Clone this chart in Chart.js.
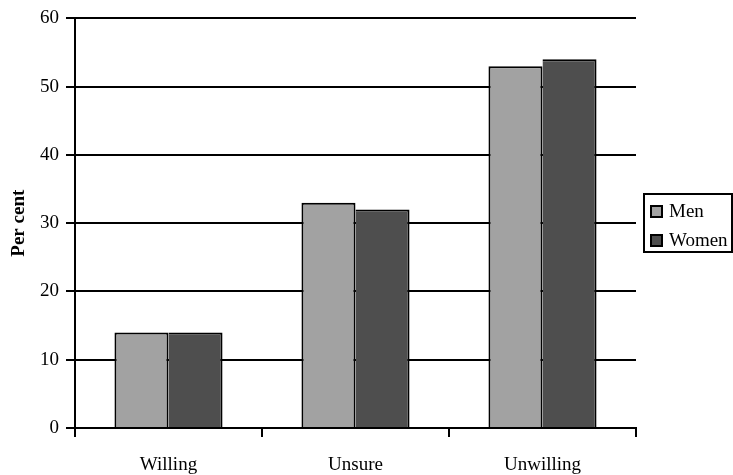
<!doctype html>
<html lang="en">
<head>
  <meta charset="utf-8">
  <title>Willingness by sex</title>
  <script src="https://cdn.jsdelivr.net/npm/chart.js"></script>
  <style>
    html, body { margin: 0; padding: 0; background: #fff; }
    #wrap { width: 733px; height: 475px; }
  </style>
</head>
<body>
<div id="wrap"><canvas id="myChart"></canvas></div>

<script>
  // answers per group, in per cent
  const categories = ['Willing', 'Unsure', 'Unwilling'];
  const men = [14, 33, 53];
  const women = [14, 32, 54];
  const yMin = 0, yMax = 60, yStep = 10;

  const FONT = 'Liberation Serif';
  Chart.defaults.color = '#000';
  Chart.defaults.font.family = FONT;
  Chart.defaults.font.size = 19;

  // boxed legend to the right of the plot, centred on the plot area
  var boxLegend = {
    id: 'boxLegend',
    afterDraw: function (chart) {
      var ctx = chart.ctx;
      var area = chart.chartArea;
      var sets = chart.data.datasets;
      var rowH = 29;
      var boxW = 88, boxH = 58;
      var x0 = 644;
      var y0 = Math.round((area.top + area.bottom) / 2 - boxH / 2);
      ctx.save();
      ctx.strokeStyle = '#000';
      ctx.lineWidth = 2;
      ctx.strokeRect(x0, y0, boxW, boxH);
      ctx.font = '19px ' + FONT;
      ctx.textBaseline = 'middle';
      sets.forEach(function (ds, i) {
        var cy = y0 + 18 + i * rowH;
        ctx.fillStyle = ds.backgroundColor;
        ctx.fillRect(x0 + 7, cy - 6, 11, 11);
        ctx.lineWidth = 2;
        ctx.strokeRect(x0 + 7, cy - 6, 11, 11);
        ctx.fillStyle = '#000';
        ctx.fillText(ds.label, x0 + 25, cy);
      });
      ctx.restore();
    }
  };

  var config = {
    type: 'bar',
    data: {
      labels: categories,
      datasets: [{
        label: 'Men',
        data: men,
        backgroundColor: '#a2a2a2',
        borderColor: '#000',
        borderWidth: {left: 2, top: 2, right: 2, bottom: 0},
        inflateAmount: 0,
        categoryPercentage: 0.578,
        barPercentage: 1.0
      }, {
        label: 'Women',
        data: women,
        backgroundColor: '#4e4e4e',
        borderColor: '#000',
        borderWidth: {left: 0, top: 2, right: 2, bottom: 0},
        inflateAmount: 0,
        categoryPercentage: 0.578,
        barPercentage: 1.0
      }]
    },
    options: {
      responsive: true,
      maintainAspectRatio: false,
      animation: false,
      layout: {
        padding: {top: 18, right: 97, left: 0, bottom: 0}
      },
      plugins: {
        legend: {display: false},
        tooltip: {enabled: false}
      },
      scales: {
        x: {
          offset: true,
          afterFit: function (scale) { scale.height = 47; },
          grid: {
            offset: true,
            drawOnChartArea: false,
            drawTicks: true,
            tickLength: 9,
            color: '#000',
            lineWidth: 2
          },
          border: {color: '#000', width: 2},
          ticks: {padding: 17, font: {size: 19}}
        },
        y: {
          min: yMin,
          max: yMax,
          afterFit: function (scale) { scale.width = 75; },
          ticks: {stepSize: yStep, padding: 7, font: {size: 19}},
          grid: {
            color: '#000',
            lineWidth: 2,
            tickLength: 9
          },
          border: {color: '#000', width: 2},
          title: {
            display: true,
            text: 'Per cent',
            font: {size: 19, weight: 'bold'},
            padding: {top: 8, bottom: 0}
          }
        }
      }
    },
    plugins: [boxLegend]
  };

  window.onload = function () {
    var ctx = document.getElementById('myChart').getContext('2d');
    new Chart(ctx, config);
  };
</script>
</body>
</html>
